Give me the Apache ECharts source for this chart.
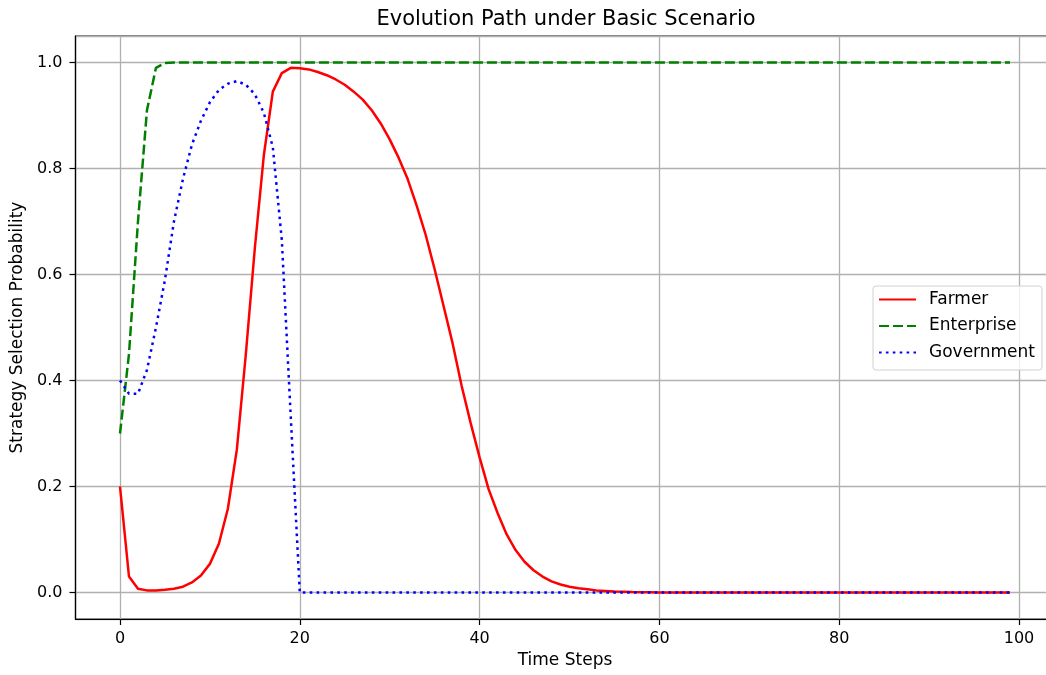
<!DOCTYPE html>
<html>
<head>
<meta charset="utf-8">
<script src="https://cdn.jsdelivr.net/npm/echarts@6/dist/echarts.min.js"></script>
<style>
  html, body { margin: 0; padding: 0; background: #fff; overflow: hidden; }
  #chart { width: 1046px; height: 675px; }
</style>
</head>
<body>
<div id="chart"></div>
<script>
// time steps 0..99
const steps = Array.from({ length: 100 }, (_, i) => i);

// farmer, steps 0..59, then zero
const farmerHead = [
  0.200, 0.030, 0.007, 0.004, 0.004, 0.005, 0.007, 0.011, 0.019, 0.032,
  0.054, 0.092, 0.158, 0.270, 0.450, 0.650, 0.825, 0.945, 0.980, 0.990,
  0.989, 0.987, 0.982, 0.976, 0.968, 0.958, 0.945, 0.930, 0.910, 0.885,
  0.855, 0.820, 0.780, 0.730, 0.675, 0.610, 0.540, 0.470, 0.390, 0.320,
  0.255, 0.195, 0.150, 0.110, 0.080, 0.058, 0.042, 0.030, 0.021, 0.015,
  0.011, 0.008, 0.006, 0.004, 0.003, 0.002, 0.0015, 0.001, 0.0007, 0.0005
];
// enterprise: steps 0..5, then 1.0
const enterpriseHead = [0.300, 0.450, 0.700, 0.910, 0.990, 0.999];
// government: steps 0..20, then 0
const governmentHead = [
  0.400, 0.375, 0.375, 0.420, 0.500, 0.590, 0.700, 0.780, 0.845, 0.890,
  0.925, 0.948, 0.960, 0.965, 0.958, 0.940, 0.905, 0.840, 0.665, 0.330,
  0.000
];

const farmer = steps.map(t => t < farmerHead.length ? farmerHead[t] : 0);
const enterprise = steps.map(t => t < enterpriseHead.length ? enterpriseHead[t] : 1);
const government = steps.map(t => t < governmentHead.length ? governmentHead[t] : 0);

const chart = echarts.init(document.getElementById('chart'));
const font = 'DejaVu Sans';

const mk = (name, vals, color, type) => ({
  name: name,
  type: 'line',
  data: steps.map((t, i) => [t, vals[i]]),
  showSymbol: false,
  symbol: 'none',
  animation: false,
  lineStyle: { color: color, width: 2.5, type: type, cap: 'butt' },
  itemStyle: { color: color }
});

const axisCommon = {
  axisLine: { show: true, onZero: false, lineStyle: { color: '#000', width: 1.2 } },
  axisTick: { show: true, inside: false, length: 6, lineStyle: { color: '#000', width: 1.2 } },
  splitLine: { show: true, lineStyle: { color: '#b0b0b0', width: 1.3 } }
};

chart.setOption({
  animation: false,
  backgroundColor: '#fff',
  title: {
    text: 'Evolution Path under Basic Scenario',
    left: 561, top: 4, textAlign: 'center',
    textStyle: { fontFamily: font, fontSize: 21, fontWeight: 'normal', color: '#000' }
  },
  // plot box runs a little past the right edge of the picture
  grid: {
    left: 75.5, top: 36, width: 979, height: 583,
    containLabel: false, outerBoundsMode: 'none',
    show: true, borderColor: '#000', borderWidth: 1.2, backgroundColor: 'transparent'
  },
  legend: {
    orient: 'vertical',
    left: 873, top: 286,
    itemWidth: 37, itemHeight: 14, itemGap: 9.5,
    padding: [5, 7, 9, 5],
    borderColor: '#d0d0d0', borderWidth: 1, borderRadius: 3,
    backgroundColor: 'rgba(255,255,255,0.8)',
    itemStyle: { opacity: 0 },
    textStyle: { fontFamily: font, fontSize: 17, color: '#000', padding: [0, 0, 0, 8] },
    data: ['Farmer', 'Enterprise', 'Government']
  },
  xAxis: Object.assign({
    type: 'value',
    min: -4.95, max: 103.95,
    splitNumber: 5,
    name: 'Time Steps', nameLocation: 'middle', nameGap: 33,
    nameTextStyle: { fontFamily: font, fontSize: 17, color: '#000' },
    axisLabel: {
      fontFamily: font, fontSize: 16, color: '#000', margin: 12,
      showMinLabel: false, showMaxLabel: false,
      formatter: v => (Math.abs(v % 20) < 1e-6 ? String(v) : '')
    }
  }, axisCommon),
  yAxis: Object.assign({
    type: 'value',
    min: -0.05, max: 1.05,
    splitNumber: 5,
    name: 'Strategy Selection Probability', nameLocation: 'middle', nameGap: 48,
    nameTextStyle: { fontFamily: font, fontSize: 17, color: '#000' },
    axisLabel: {
      fontFamily: font, fontSize: 16, color: '#000', margin: 13,
      showMinLabel: false, showMaxLabel: false,
      formatter: v => {
        const k = v * 5;
        return Math.abs(k - Math.round(k)) < 1e-6 ? v.toFixed(1) : '';
      }
    }
  }, axisCommon),
  series: [
    mk('Farmer', farmer, '#ff0000', 'solid'),
    mk('Enterprise', enterprise, '#008000', [10, 4]),
    mk('Government', government, '#0000ff', [2.6, 4.3])
  ]
});
</script>
</body>
</html>
